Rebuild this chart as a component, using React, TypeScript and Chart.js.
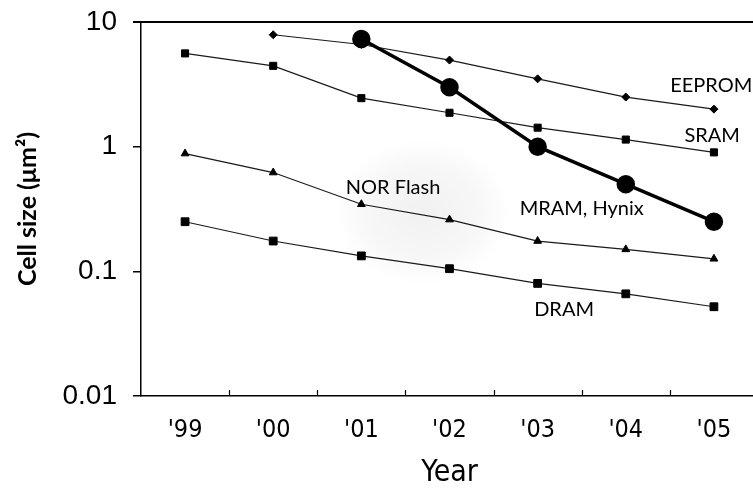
import React, { useEffect, useRef } from 'react';
import { Chart, registerables } from 'chart.js';

Chart.register(...registerables);

// Memory cell size roadmap, in square micrometres per cell
const years = ["'99", "'00", "'01", "'02", "'03", "'04", "'05"];
const eeprom = [null, 7.9, 6.6, 4.95, 3.5, 2.5, 2.0];
const sram = [5.6, 4.45, 2.45, 1.87, 1.42, 1.14, 0.9];
const mramHynix = [null, null, 7.3, 3.0, 1.0, 0.5, 0.25];
const norFlash = [0.88, 0.62, 0.345, 0.26, 0.175, 0.15, 0.126];
const dram = [0.25, 0.175, 0.133, 0.105, 0.08, 0.066, 0.052];
const yTicks = [0.01, 0.1, 1, 10];

// Series names written beside their curves (x = category index, y = cell size)
const seriesNames = [
  { text: 'EEPROM', x: 5.97, y: 3.25 },
  { text: 'SRAM', x: 5.98, y: 1.29 },
  { text: 'NOR Flash', x: 2.36, y: 0.5 },
  { text: 'MRAM, Hynix', x: 4.5, y: 0.335 },
  { text: 'DRAM', x: 4.3, y: 0.052 },
];

const LABEL_FONT = '20px Lato, "Noto Sans", sans-serif';

const decorations = {
  id: 'decorations',
  beforeDatasetsDraw(chart: any) {
    const { ctx, scales } = chart;
    const xs = scales.x;
    const ys = scales.y;
    // faint grey shading behind the NOR Flash label
    const cx = xs.getPixelForValue(2.7);
    const cy = ys.getPixelForValue(0.3);
    ctx.save();
    ctx.translate(cx, cy);
    ctx.scale(1.2, 1);
    const g = ctx.createRadialGradient(0, 0, 0, 0, 0, 72);
    g.addColorStop(0, 'rgba(0,0,0,0.055)');
    g.addColorStop(0.65, 'rgba(0,0,0,0.03)');
    g.addColorStop(1, 'rgba(0,0,0,0)');
    ctx.fillStyle = g;
    ctx.beginPath();
    ctx.arc(0, 0, 72, 0, Math.PI * 2);
    ctx.fill();
    ctx.restore();
  },
  afterDraw(chart: any) {
    const { ctx, chartArea, scales } = chart;
    const xs = scales.x;
    const ys = scales.y;
    ctx.save();
    // top frame line
    ctx.strokeStyle = '#000';
    ctx.lineWidth = 2;
    ctx.beginPath();
    ctx.moveTo(chartArea.left - 8, chartArea.top);
    ctx.lineTo(chartArea.right, chartArea.top);
    ctx.stroke();
    // inward tick marks between categories
    ctx.lineWidth = 1.2;
    for (let i = 1; i < years.length; i++) {
      const px = Math.round(xs.getPixelForValue(i - 0.5)) + 0.5;
      ctx.beginPath();
      ctx.moveTo(px, chartArea.bottom);
      ctx.lineTo(px, chartArea.bottom - 6);
      ctx.stroke();
    }
    // curve names
    ctx.fillStyle = '#000';
    ctx.font = LABEL_FONT;
    ctx.textAlign = 'center';
    ctx.textBaseline = 'middle';
    for (const s of seriesNames) {
      ctx.fillText(s.text, xs.getPixelForValue(s.x), ys.getPixelForValue(s.y) + 3);
    }
    ctx.restore();
  },
};

const thin = {
  borderColor: '#1a1a1a',
  backgroundColor: '#000',
  pointBackgroundColor: '#000',
  pointBorderColor: '#000',
  borderWidth: 1.2,
  pointBorderWidth: 1,
};

export default function App() {
  const ref = useRef<HTMLCanvasElement | null>(null);

  useEffect(() => {
    if (!ref.current) return;
    const chart = new Chart(ref.current, {
      type: 'line',
      data: {
        labels: years,
        datasets: [
          {
            label: 'MRAM, Hynix',
            data: mramHynix,
            borderColor: '#000',
            backgroundColor: '#000',
            pointBackgroundColor: '#000',
            pointBorderColor: '#000',
            borderWidth: 3.5,
            pointStyle: 'circle',
            pointRadius: 7.5,
          },
          { label: 'EEPROM', data: eeprom, ...thin, pointStyle: 'rectRot', pointRadius: 4 },
          { label: 'SRAM', data: sram, ...thin, pointStyle: 'rect', pointRadius: 5 },
          { label: 'NOR Flash', data: norFlash, ...thin, pointStyle: 'triangle', pointRadius: 4.5 },
          { label: 'DRAM', data: dram, ...thin, pointStyle: 'rect', pointRadius: 5.5 },
        ],
      },
      options: {
        responsive: false,
        animation: false,
        devicePixelRatio: 1,
        layout: { padding: { top: 22, right: 0, bottom: 0, left: 0 } },
        plugins: {
          legend: { display: false },
          tooltip: { enabled: false },
        },
        elements: { line: { tension: 0 } },
        scales: {
          x: {
            type: 'category',
            offset: true,
            afterFit: (s: any) => {
              s.height = 92;
              s.paddingLeft = 0;
              s.paddingRight = 0;
            },
            grid: { display: true, drawOnChartArea: false, drawTicks: false, offset: true },
            border: { display: true, color: '#000', width: 1.5 },
            ticks: {
              color: '#000',
              padding: 22,
              font: { family: '"Liberation Sans Narrow", "DejaVu Sans Condensed", sans-serif', size: 25, lineHeight: 1 },
              maxRotation: 0,
            },
            title: {
              display: true,
              text: 'Year',
              color: '#000',
              font: { family: '"Liberation Sans Narrow", "DejaVu Sans Condensed", sans-serif', size: 30, lineHeight: 1 },
              padding: { top: 0, bottom: 0 },
            },
          },
          y: {
            type: 'logarithmic',
            min: 0.01,
            max: 10,
            afterFit: (s: any) => {
              s.width = 141;
              s.paddingTop = 0;
              s.paddingBottom = 0;
            },
            afterBuildTicks: (s: any) => {
              s.ticks = yTicks.map((v) => ({ value: v, major: true }));
            },
            grid: {
              display: true,
              drawOnChartArea: false,
              drawTicks: true,
              tickLength: 8,
              color: '#000',
              lineWidth: 1.5,
            },
            border: { display: true, color: '#000', width: 1.5 },
            ticks: {
              color: '#000',
              padding: 16,
              font: { family: '"Liberation Sans", Arial, sans-serif', size: 28, lineHeight: 1 },
              callback: (v: any) => String(v),
            },
            title: {
              display: true,
              text: 'Cell size (\u03bcm\u00b2)',
              color: '#000',
              font: { family: 'Lato, "Noto Sans", sans-serif', size: 25, weight: 'bold', lineHeight: 1.2 },
              padding: { top: 13, bottom: 0 },
            },
          },
        },
      },
      plugins: [decorations],
    } as any);
    return () => chart.destroy();
  }, []);

  return (
    <div
      style={{
        position: 'absolute',
        left: 0,
        top: 0,
        width: 753,
        height: 488,
        overflow: 'hidden',
        background: '#fff',
      }}
    >
      <canvas ref={ref} width={769} height={488} style={{ width: 769, height: 488, display: 'block' }} />
    </div>
  );
}
